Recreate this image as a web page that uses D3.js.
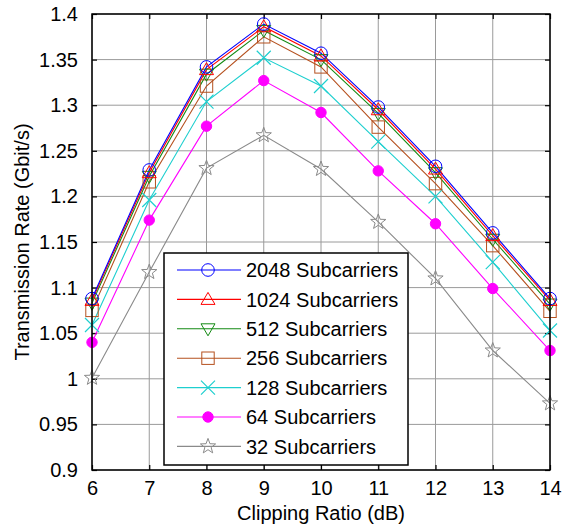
<!DOCTYPE html>
<html><head><meta charset="utf-8">
<script src="https://cdn.jsdelivr.net/npm/d3@7/dist/d3.min.js"></script>
<style>body{margin:0;background:#fff}svg{display:block}text{font-family:Arial,"Liberation Sans",sans-serif}</style>
</head><body><svg id="c" width="574" height="529"></svg>
<script>
const clippingRatio = [6, 7, 8, 9, 10, 11, 12, 13, 14];
const s2048 = [1.088, 1.229, 1.342, 1.389, 1.357, 1.298, 1.233, 1.160, 1.088];
const s1024 = [1.086, 1.226, 1.339, 1.386, 1.354, 1.295, 1.230, 1.157, 1.086];
const s512  = [1.083, 1.222, 1.334, 1.382, 1.350, 1.291, 1.226, 1.153, 1.082];
const s256  = [1.075, 1.216, 1.321, 1.375, 1.342, 1.276, 1.214, 1.146, 1.074];
const s128  = [1.059, 1.196, 1.304, 1.352, 1.321, 1.260, 1.200, 1.128, 1.053];
const s64   = [1.040, 1.174, 1.277, 1.327, 1.292, 1.228, 1.170, 1.099, 1.031];
const s32   = [1.001, 1.117, 1.231, 1.267, 1.230, 1.172, 1.110, 1.031, 0.973];
const seriesNames = ["2048 Subcarriers","1024 Subcarriers","512 Subcarriers","256 Subcarriers","128 Subcarriers","64 Subcarriers","32 Subcarriers"];
const xTicks = [6,7,8,9,10,11,12,13,14];
const yTicks = [0.9,0.95,1,1.05,1.1,1.15,1.2,1.25,1.3,1.35,1.4];
const yTickLabels = ["0.9","0.95","1","1.05","1.1","1.15","1.2","1.25","1.3","1.35","1.4"];

const series = [
  {name: seriesNames[0], values: s2048, color: "#0000ff", marker: "circle"},
  {name: seriesNames[1], values: s1024, color: "#ff0000", marker: "triUp"},
  {name: seriesNames[2], values: s512,  color: "#138a13", marker: "triDown"},
  {name: seriesNames[3], values: s256,  color: "#b5501e", marker: "square"},
  {name: seriesNames[4], values: s128,  color: "#1ecfcf", marker: "x"},
  {name: seriesNames[5], values: s64,   color: "#ff00ff", marker: "dot"},
  {name: seriesNames[6], values: s32,   color: "#8a8a8a", marker: "star"}
];

const L = 92, R = 550, T = 14, B = 470;
const svg = d3.select("#c");
const x = d3.scaleLinear().domain([6,14]).range([L,R]);
const y = d3.scaleLinear().domain([0.9,1.4]).range([B,T]);

// grid
const g = svg.append("g");
g.selectAll("line.vx").data(xTicks).join("line")
  .attr("x1", d=>x(d)).attr("x2", d=>x(d)).attr("y1", T).attr("y2", B)
  .attr("stroke", "#9a9a9a").attr("stroke-width", 1);
g.selectAll("line.hy").data(yTicks).join("line")
  .attr("x1", L).attr("x2", R).attr("y1", d=>y(d)).attr("y2", d=>y(d))
  .attr("stroke", "#9a9a9a").attr("stroke-width", 1);

// axes
const fs = "20px";
const xAxis = d3.axisBottom(x).tickValues(xTicks).tickSize(-5).tickPadding(11).tickFormat(d3.format("d"));
const yAxis = d3.axisLeft(y).tickValues(yTicks).tickSize(-5).tickPadding(14).tickFormat((d,i)=>yTickLabels[i]);
const xa = svg.append("g").attr("transform", `translate(0,${B})`).call(xAxis);
const ya = svg.append("g").attr("transform", `translate(${L},0)`).call(yAxis);
const xt = svg.append("g").attr("transform", `translate(0,${T})`).call(d3.axisTop(x).tickValues(xTicks).tickSize(-5).tickFormat(""));
const yr = svg.append("g").attr("transform", `translate(${R},0)`).call(d3.axisRight(y).tickValues(yTicks).tickSize(-5).tickFormat(""));
[xa,ya,xt,yr].forEach(a=>{
  a.select(".domain").remove();
  a.selectAll(".tick line").attr("stroke","#000").attr("stroke-width",1.2);
  a.selectAll("text").attr("fill","#000").style("font-size",fs).style("font-family","Arial, 'Liberation Sans', sans-serif");
});
xa.selectAll("text").attr("dy","0.71em");

// data lines
const line = d3.line().x((d,i)=>x(clippingRatio[i])).y(d=>y(d));
const dg = svg.append("g");

function drawMarker(sel, type, color, cx, cy) {
  const r = 6.3;
  if (type === "circle") sel.append("circle").attr("cx",cx).attr("cy",cy).attr("r",r).attr("fill","none").attr("stroke",color).attr("stroke-width",1);
  else if (type === "dot") sel.append("circle").attr("cx",cx).attr("cy",cy).attr("r",5.2).attr("fill",color).attr("stroke",color);
  else if (type === "triUp") sel.append("path").attr("d",`M${cx},${cy-7}L${cx+7},${cy+5}L${cx-7},${cy+5}Z`).attr("fill","none").attr("stroke",color).attr("stroke-width",1);
  else if (type === "triDown") sel.append("path").attr("d",`M${cx-7},${cy-5}L${cx+7},${cy-5}L${cx},${cy+7}Z`).attr("fill","none").attr("stroke",color).attr("stroke-width",1);
  else if (type === "square") sel.append("rect").attr("x",cx-6.2).attr("y",cy-6.2).attr("width",12.4).attr("height",12.4).attr("fill","none").attr("stroke",color).attr("stroke-width",1);
  else if (type === "x") sel.append("path").attr("d",`M${cx-7},${cy-7}L${cx+7},${cy+7}M${cx+7},${cy-7}L${cx-7},${cy+7}`).attr("fill","none").attr("stroke",color).attr("stroke-width",1.2);
  else if (type === "star") {
    const pts = [];
    for (let k=0;k<10;k++){const a=-Math.PI/2+k*Math.PI/5; const rr = k%2===0?8:3.3; pts.push([cx+rr*Math.cos(a), cy+rr*Math.sin(a)]);}
    sel.append("path").attr("d","M"+pts.map(p=>p.join(",")).join("L")+"Z").attr("fill","none").attr("stroke",color).attr("stroke-width",1);
  }
}

series.slice().reverse().forEach(s=>{
  dg.append("path").attr("d", line(s.values)).attr("fill","none").attr("stroke",s.color).attr("stroke-width",1.1);
});
series.slice().reverse().forEach(s=>{
  s.values.forEach((v,i)=>drawMarker(dg, s.marker, s.color, x(clippingRatio[i]), y(v)));
});

// box
svg.append("rect").attr("x",L).attr("y",T).attr("width",R-L).attr("height",B-T).attr("fill","none").attr("stroke","#000").attr("stroke-width",1.5);

// legend
const lg = svg.append("g");
lg.append("rect").attr("x",164).attr("y",253).attr("width",244).attr("height",212).attr("fill","#fff").attr("stroke","#000").attr("stroke-width",1.5);
series.forEach((s,i)=>{
  const cy = 270 + i*29.4;
  lg.append("line").attr("x1",177).attr("x2",241).attr("y1",cy).attr("y2",cy).attr("stroke",s.color).attr("stroke-width",1.1);
  drawMarker(lg, s.marker, s.color, 208, cy);
  lg.append("text").attr("x",246).attr("y",cy).attr("dy","0.36em").style("font-size",fs).attr("fill","#000").text(s.name);
});

// axis labels
svg.append("text").attr("x",(L+R)/2).attr("y",520).attr("text-anchor","middle").style("font-size",fs).attr("fill","#000").text("Clipping Ratio (dB)");
svg.append("text").attr("transform",`translate(29,${(T+B)/2}) rotate(-90)`).attr("text-anchor","middle").style("font-size",fs).attr("fill","#000").text("Transmission Rate (Gbit/s)");
</script></body></html>
